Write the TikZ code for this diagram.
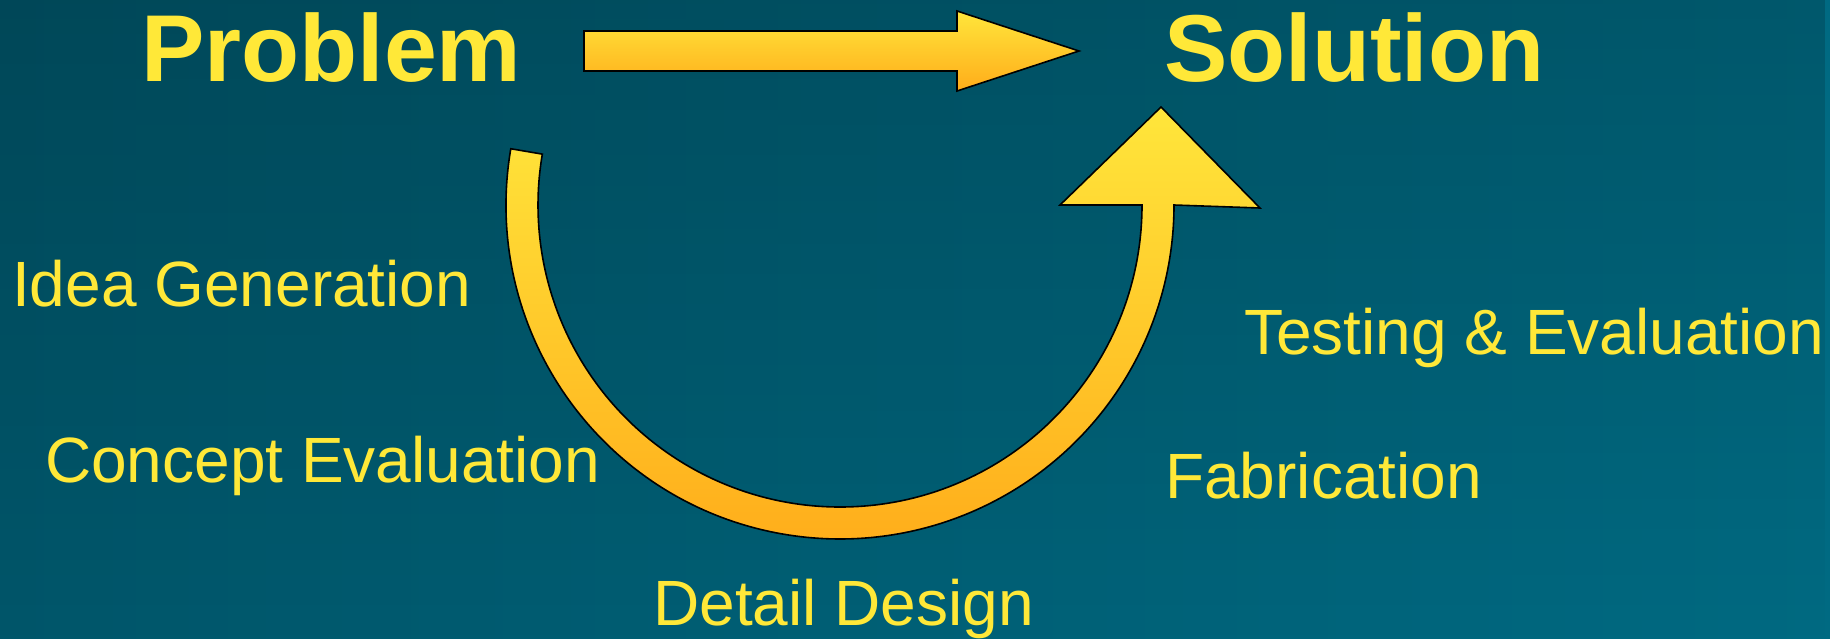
\documentclass[tikz,border=0pt]{standalone}
\usepackage{fontspec}
\setmainfont{Liberation Sans}
\usetikzlibrary{fadings,calc}
\definecolor{bgL}{HTML}{00566A}
\definecolor{bgR}{HTML}{006A82}
\definecolor{txt}{HTML}{FFE838}
\definecolor{arTop}{HTML}{FFE63B}
\definecolor{arBot}{HTML}{FFAC1A}
\tikzset{
  big/.style={text=txt, inner sep=0pt, anchor=base west, font=\fontsize{95}{100}\selectfont\bfseries},
  stage/.style={text=txt, inner sep=0pt, anchor=base west, font=\fontsize{64}{70}\selectfont},
  blockarrow/.style={draw=black, line width=1.6pt, line join=miter, top color=arTop, bottom color=arBot}
}
\begin{document}
\begin{tikzpicture}[x=1pt,y=1pt]
\useasboundingbox (0,0) rectangle (1830,-638);
% background
\shade[left color=bgL, right color=bgR] (-2,2) rectangle (1832,-640);
\fill[black, path fading=south, fill opacity=0.17] (-2,2) rectangle (1832,-640);

% titles
\node[big] (problem) at (141,-81) {Problem};
\node[big] (solution) at (1164,-81) {Solution};

% stages
\node[stage] (idea) at (12,-306) {Idea Generation};
\node[stage] (concept) at (45,-482) {Concept Evaluation};
\node[stage] (detail) at (653,-625) {Detail Design};
\node[stage] (fab) at (1165,-498) {Fabrication};
\node[stage] (test) at (1244,-354) {Testing \& Evaluation};

% straight block arrow
\coordinate (s1) at (584,-31);
\coordinate (s2) at (957,-31);
\coordinate (h1) at (957,-11);
\coordinate (tip) at (1079,-51);
\coordinate (h2) at (957,-91);
\coordinate (s3) at (957,-71);
\coordinate (s4) at (584,-71);
\draw[blockarrow] (s1) -- (s2) -- (h1) -- (tip) -- (h2) -- (s3) -- (s4) -- cycle;

% curved block arrow
\coordinate (c) at (840,-205);
\coordinate (cb1) at (1260,-208);
\coordinate (ctip) at (1161,-107);
\coordinate (cb2) at (1060,-205);
\draw[blockarrow] ($(c)+(170.3:334)$) arc[start angle=170.3, end angle=360, radius=334]
  -- (cb1) -- (ctip) -- (cb2) -- ($(c)+(0:302)$)
  arc[start angle=360, end angle=170.3, radius=302] -- cycle;
\end{tikzpicture}
\end{document}
